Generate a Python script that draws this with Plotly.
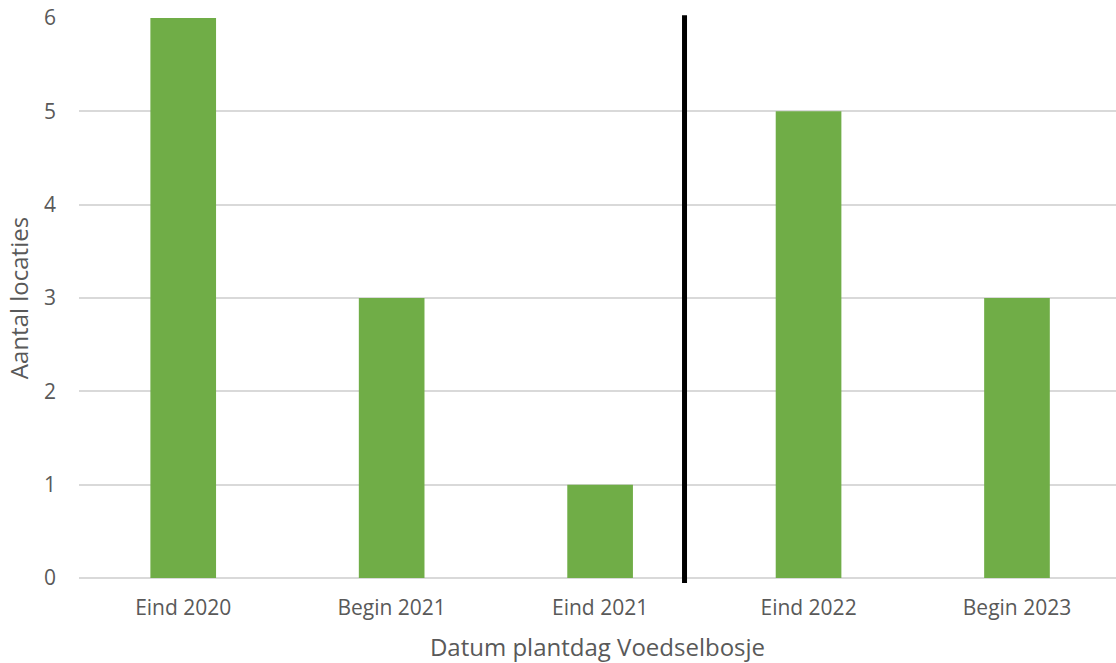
import plotly.graph_objects as go

categories = ["Eind 2020", "Begin 2021", "Eind 2021", "Eind 2022", "Begin 2023"]
values = [6, 3, 1, 5, 3]
y_ticks = [0, 1, 2, 3, 4, 5, 6]
divider_pos = 2.405  # position of the black separator line, in category units

x_idx = list(range(len(categories)))

fig = go.Figure()
fig.add_trace(go.Bar(
    x=x_idx, y=values, marker=dict(color="#70AD47", line=dict(width=0)),
    width=0.315, showlegend=False, hoverinfo="skip",
))

fig.add_shape(type="line", xref="x", yref="paper",
              x0=divider_pos, x1=divider_pos, y0=-0.009, y1=1.005,
              line=dict(color="black", width=5))

font_family = "Open Sans, Noto Sans, sans-serif"
fig.update_layout(
    width=1116, height=663,
    margin=dict(l=79, r=0, t=18, b=85, autoexpand=False),
    paper_bgcolor="white", plot_bgcolor="white",
    font=dict(family=font_family, color="#595959"),
    xaxis=dict(
        tickvals=x_idx, ticktext=categories, range=[-0.5, 4.475],
        showgrid=False, zeroline=False, showline=False,
        tickfont=dict(size=21, color="#595959"), ticks="",
        ticklabelstandoff=15, automargin=False,
        title=dict(text="Datum plantdag Voedselbosje", font=dict(size=24, color="#595959"), standoff=27),
    ),
    yaxis=dict(
        range=[0, 6], tickvals=y_ticks, showgrid=True, gridcolor="#D9D9D9", gridwidth=1.5,
        zeroline=True, zerolinecolor="#D9D9D9", zerolinewidth=1.5,
        tickfont=dict(size=21, color="#595959"), ticks="", ticklabelstandoff=22,
        ticklabeloverflow="allow", automargin=False,
        title=dict(text="Aantal locaties", font=dict(size=24, color="#595959"), standoff=8),
    ),
    bargap=0.685,
)

fig.write_html("out.html", config={"displayModeBar": False},
               post_script="document.body.style.margin='0';document.body.style.overflow='hidden';")
